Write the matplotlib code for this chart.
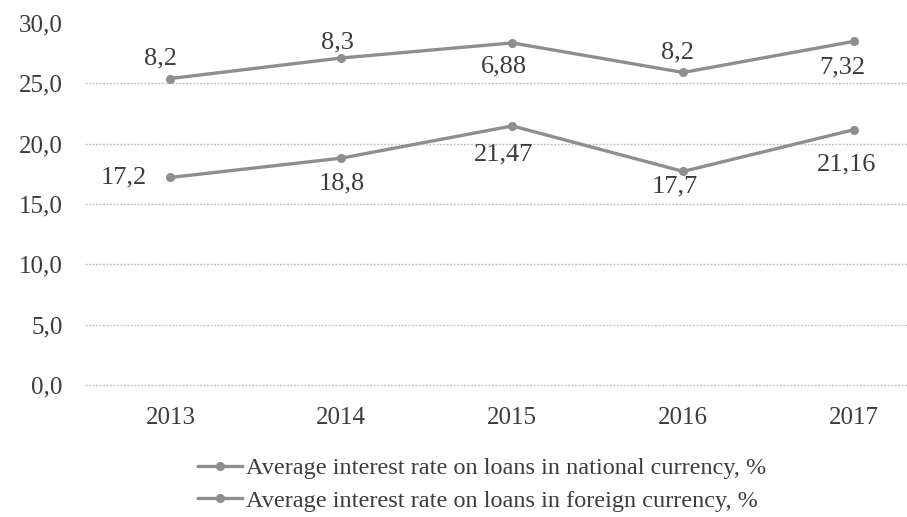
import matplotlib.pyplot as plt

plt.rcParams['font.family'] = ['Liberation Serif', 'DejaVu Serif']

years = ['2013', '2014', '2015', '2016', '2017']
national = [17.2, 18.8, 21.47, 17.7, 21.16]
foreign = [8.2, 8.3, 6.88, 8.2, 7.32]
yticks = [0, 5, 10, 15, 20, 25, 30]

line_color = '#8e8e8e'
text_color = '#3c3c3c'


def fmt(v):
    return f'{v:g}'.replace('.', ',')


fig = plt.figure(figsize=(9.07, 5.17), dpi=100)
ax = fig.add_axes([85 / 907, 1 - 385 / 517, 1 - 85 / 907, (385 - 23) / 517])

x = list(range(len(years)))
stacked = [a + b for a, b in zip(national, foreign)]

# gridlines (no line at the top value)
for t in yticks[:-1]:
    ax.axhline(t, color='#c4c4c4', linewidth=1, linestyle=(0, (1.5, 1)),
               zorder=0, clip_on=False)

ax.plot(x, national, color=line_color, linewidth=2.4, marker='o', markersize=5.5,
        label='Average interest rate on loans in national currency, %', zorder=3)
ax.plot(x, stacked, color=line_color, linewidth=2.4, marker='o', markersize=5.5,
        label='Average interest rate on loans in foreign currency, %', zorder=3)

# label placement (offsets in pixels)
nat_off = [(-47, 0), (0, -25), (-9, -29), (-8, -15), (-7, -35)]
for_off = [(-10, 20), (-4, 16), (-8, -24), (-6, 20), (-12, -26)]
for i in x:
    ax.annotate(fmt(national[i]), (i, national[i]), xytext=nat_off[i],
                textcoords='offset pixels', ha='center', va='center',
                fontsize=19, color=text_color, zorder=4)
    ax.annotate(fmt(foreign[i]), (i, stacked[i]), xytext=for_off[i],
                textcoords='offset pixels', ha='center', va='center',
                fontsize=19, color=text_color, zorder=4)

ax.set_xlim(-0.5, (907 - 170) / 171)
ax.set_ylim(0, 30)
ax.set_xticks(x)
ax.set_xticklabels(years)
ax.set_yticks(yticks)
ax.set_yticklabels([f'{t:.1f}'.replace('.', ',') for t in yticks])
ax.tick_params(axis='both', length=0, labelsize=18, colors=text_color)
ax.tick_params(axis='y', pad=16)
ax.tick_params(axis='x', pad=16)
for s in ax.spines.values():
    s.set_visible(False)

fig.legend(loc='upper center', bbox_to_anchor=(482 / 907, 1 - 440 / 517),
           frameon=False, ncol=1, fontsize=17.5, handlelength=1.8,
           handletextpad=0.15, labelspacing=0.45, labelcolor=text_color,
           borderpad=0.2)

fig.savefig('out.png', dpi=100)
